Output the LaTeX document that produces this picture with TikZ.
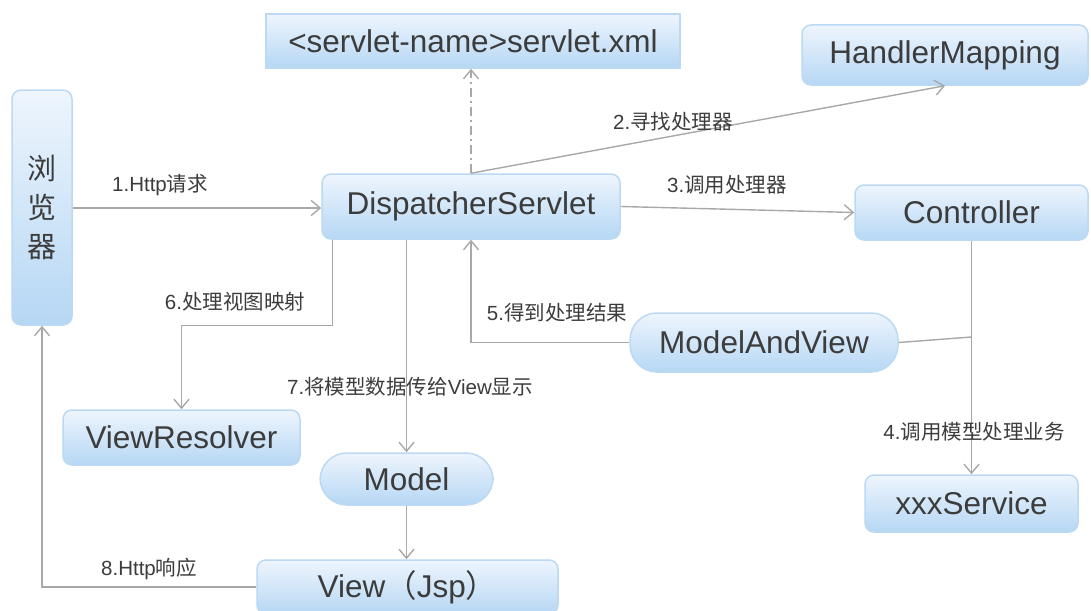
\documentclass[tikz,border=0pt]{standalone}
\usepackage{fontspec}
\setmainfont{Liberation Sans}
\newfontfamily\cjk{Noto Sans CJK SC}
\usetikzlibrary{arrows.meta}
\definecolor{linec}{HTML}{A8A8A8}
\definecolor{boxtop}{HTML}{EEF5FD}
\definecolor{boxbot}{HTML}{B6D7F4}
\definecolor{boxedge}{HTML}{BCD9F3}
\definecolor{txt}{HTML}{3C3C3C}
\newcommand{\zh}[1]{{\cjk #1}}
\tikzset{
  box/.style={draw=boxedge, line width=1.5pt, rounded corners=9pt, top color=boxtop, bottom color=boxbot,
    text=txt, font=\fontsize{31.5}{36}\selectfont, inner sep=0pt},
  pill/.style={box, rounded corners=27pt},
  lbl/.style={text=txt, font=\fontsize{20.5}{24}\selectfont, inner sep=0pt},
  conn/.style={draw=linec, line width=1.4pt, -{Straight Barb[length=9pt,width=15pt,line width=1.4pt]}},
  plain/.style={draw=linec, line width=1.4pt}
}
\begin{document}
\begin{tikzpicture}[x=1pt,y=-1pt]
\useasboundingbox (0,0) rectangle (1091,610);
% nodes
\node[box, minimum width=60pt, minimum height=235pt, align=center, font=\fontsize{29}{39}\selectfont\cjk] (br) at (42,207.5) {浏\\览\\器};
\node[box, rounded corners=0pt, minimum width=414pt, minimum height=54pt] (xml) at (473,41) {<servlet-name>servlet.xml};
\node[box, minimum width=286pt, minimum height=60pt] (hm) at (945,55) {HandlerMapping};
\node[box, minimum width=298pt, minimum height=65pt] (ds) at (471,206.5) {DispatcherServlet};
\node[box, minimum width=233pt, minimum height=55pt] (ctrl) at (971.5,212.5) {Controller};
\node[pill, minimum width=268pt, minimum height=59pt] (mav) at (764,342.5) {ModelAndView};
\node[box, minimum width=237pt, minimum height=55pt] (vr) at (181.5,437.5) {ViewResolver};
\node[pill, minimum width=173pt, minimum height=52pt] (model) at (406.5,479) {Model};
\node[box, minimum width=301pt, minimum height=54pt] (view) at (407.5,587) {View\zh{（}Jsp\zh{）}};
\node[box, minimum width=213pt, minimum height=57pt] (svc) at (971.5,503.5) {xxxService};
% connectors
\draw[conn] (br.east |- 0,208) -- (ds.west |- 0,208);
\node[lbl] (l1) at (160,185) {1.Http\zh{请求}};
\draw[conn, dash pattern=on 9pt off 4pt on 2pt off 4pt] (ds.north) -- (ds.north |- xml.south);
\draw[conn] (ds.north) -- (hm.south);
\node[lbl] (l2) at (673,122) {2.\zh{寻找处理器}};
\draw[conn] (ds.east) -- (ctrl.west);
\node[lbl] (l3) at (727,184.5) {3.\zh{调用处理器}};
\draw[conn] (ctrl.south) -- (svc.north);
\node[lbl] (l4) at (974,432) {4.\zh{调用模型处理业务}};
\coordinate (j) at (971.5,337);
\draw[plain] (j) -- (mav.east);
\draw[conn] (mav.west) -| (ds.south);
\node[lbl] (l5) at (557,312.5) {5.\zh{得到处理结果}};
\draw[conn] ([xshift=11pt]ds.south west) -- ++(0,85.5) -| (vr.north);
\node[lbl] (l6) at (235,302) {6.\zh{处理视图映射}};
\draw[conn] (model.north |- ds.south) -- (model.north);
\node[lbl] (l7) at (410,387) {7.\zh{将模型数据传给}View\zh{显示}};
\draw[conn] (model.south) -- (model.south |- view.north);
\draw[conn] (view.west) -| (br.south);
\node[lbl] (l8) at (149,568.5) {8.Http\zh{响应}};
\end{tikzpicture}
\end{document}
